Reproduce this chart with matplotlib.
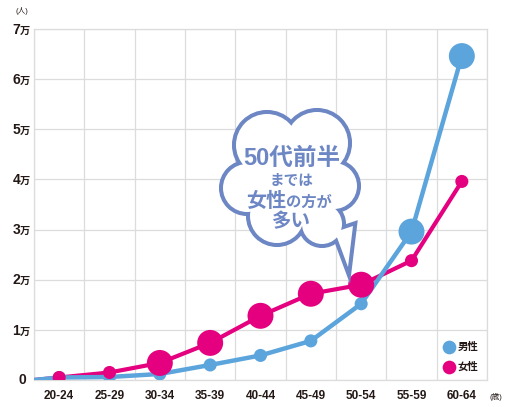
import matplotlib
matplotlib.use("Agg")
import matplotlib.pyplot as plt
from matplotlib.patches import Circle, Polygon

plt.rcParams['font.family'] = ['Liberation Sans', 'Noto Sans CJK JP', 'DejaVu Sans']

# age bands and head counts (people)
ages = ["20-24", "25-29", "30-34", "35-39", "40-44", "45-49", "50-54", "55-59", "60-64"]
male = [500, 600, 1200, 3000, 4900, 7800, 15200, 29600, 64600]
female = [500, 1500, 3400, 7400, 12800, 17200, 19000, 23800, 39600]
start_value = 0           # both lines begin at the origin
y_ticks = [0, 10000, 20000, 30000, 40000, 50000, 60000, 70000]

BLUE = "#5ba4dc"
PINK = "#e4007f"
BUBBLE = "#6d86c4"
INK = "#231815"
GRID = "#dcdcdc"

# marker diameters in points (small / large)
SMALL, LARGE = 9.4, 18.7
male_ms = [SMALL] * 7 + [LARGE] * 2
female_ms = [SMALL] * 2 + [LARGE] * 5 + [SMALL] * 2

W, H = 511, 407
fig = plt.figure(figsize=(W / 100, H / 100), dpi=100)
ax = fig.add_axes([34 / W, (H - 380) / H, 453 / W, 351 / H])

xs = list(range(len(ages)))
line_x = [-0.5] + xs
ax.plot(line_x, [start_value] + female, color=PINK, lw=3.0, zorder=3, solid_capstyle="round")
ax.plot(line_x, [start_value] + male, color=BLUE, lw=3.2, zorder=4, solid_capstyle="round")
ax.scatter(xs, male, s=[m ** 2 for m in male_ms], color=BLUE, zorder=5, linewidths=0)
ax.scatter(xs, female, s=[m ** 2 for m in female_ms], color=PINK, zorder=6, linewidths=0)

ax.set_xlim(-0.5, len(ages) - 0.5)
ax.set_ylim(0, 70000)
ax.set_xticks(xs)
ax.set_xticklabels(ages, fontsize=8.5, fontweight="bold", color=INK)
ax.set_xticks([x - 0.5 for x in range(len(ages) + 1)], minor=True)
ax.set_yticks(y_ticks)
ax.set_yticklabels([])
ax.tick_params(axis="both", which="both", length=0)
ax.tick_params(axis="x", pad=7)
ax.grid(True, which="minor", axis="x", color=GRID, lw=0.9)
ax.grid(True, which="major", axis="y", color=GRID, lw=0.9)
for sp in ax.spines.values():
    sp.set_color(GRID)
    sp.set_linewidth(0.9)

# y labels: bold number with a small 万
ytr = ax.get_yaxis_transform()
for v in y_ticks:
    if v == 0:
        ax.annotate("0", (0, v), xycoords=ytr, xytext=(-8.3, 0), textcoords="offset points",
                    ha="center", va="center", fontsize=10, fontweight="bold", color=INK)
        continue
    ax.annotate(str(v // 10000), (0, v), xycoords=ytr, xytext=(-10, -3.4),
                textcoords="offset points", ha="right", va="baseline",
                fontsize=10, fontweight="bold", color=INK)
    ax.annotate("万", (0, v), xycoords=ytr, xytext=(-10, -3.4),
                textcoords="offset points", ha="left", va="baseline",
                fontsize=7.3, fontweight="bold", color=INK)

fig.text(22 / W, 1 - 11 / H, "(人)", fontsize=5.5, ha="center", va="center", color=INK)
fig.text(496 / W, 1 - 397 / H, "(歳)", fontsize=5.5, ha="center", va="center", color=INK)

# legend
for yy, col, lab in [(0.094, BLUE, "男性"), (0.037, PINK, "女性")]:
    ax.scatter([0.916], [yy], s=SMALL ** 2 * 1.1, color=col, transform=ax.transAxes,
               clip_on=False, zorder=7, linewidths=0)
    ax.text(0.936, yy, lab, transform=ax.transAxes, ha="left", va="center",
            fontsize=7.5, fontweight="bold", color=INK, zorder=7)

# speech-bubble cloud drawn in pixel space
ov = fig.add_axes([0, 0, 1, 1], zorder=5)
ov.set_xlim(0, W)
ov.set_ylim(H, 0)
ov.axis("off")
ov.patch.set_alpha(0)

lobes = [(267, 145, 31), (317, 143, 31), (247, 188, 24), (277, 216, 27),
         (334, 186, 23), (322, 224, 20), (290, 185, 40)]
tail = [(335, 232), (348, 267), (353, 226)]
edge_w = 5.8
for cx, cy, r in lobes:
    ov.add_patch(Circle((cx, cy), r, facecolor="white", edgecolor=BUBBLE, lw=edge_w, zorder=1))
ov.add_patch(Polygon(tail, closed=True, facecolor="white", edgecolor=BUBBLE, lw=edge_w,
                     joinstyle="miter", zorder=1))
for cx, cy, r in lobes:
    ov.add_patch(Circle((cx, cy), r, facecolor="white", edgecolor="none", zorder=2))
ov.add_patch(Polygon(tail, closed=True, facecolor="white", edgecolor="none", zorder=2))

tkw = dict(color=BUBBLE, fontweight="bold", va="center", zorder=3)
ov.text(292, 158, "50代前半", ha="center", fontsize=17, **tkw)
ov.text(292, 181, "までは", ha="center", fontsize=10.5, **tkw)
ov.text(286, 201, "女性", ha="right", fontsize=14.5, **tkw)
ov.text(286, 203, "の方が", ha="left", fontsize=11, **tkw)
ov.text(291, 222, "多い", ha="center", fontsize=14, **tkw)

fig.savefig("out.png", dpi=100)
